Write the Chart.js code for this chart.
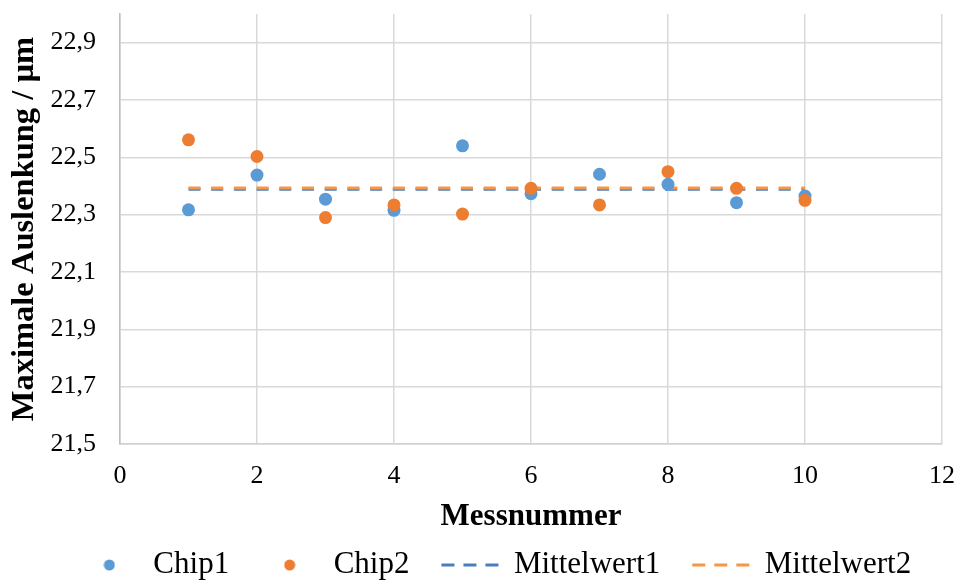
<!DOCTYPE html>
<html><head><meta charset="utf-8">
<script src="https://cdn.jsdelivr.net/npm/chart.js@4/dist/chart.umd.min.js"></script>
<style>html,body{margin:0;padding:0;background:#fff}canvas{display:block}</style>
</head><body>
<canvas id="c" width="958" height="580"></canvas>
<script>
const messnummer = [1, 2, 3, 4, 5, 6, 7, 8, 9, 10];
const chip1 = [22.317, 22.438, 22.354, 22.315, 22.540, 22.373, 22.441, 22.406, 22.342, 22.365];
const chip2 = [22.561, 22.503, 22.290, 22.334, 22.302, 22.392, 22.334, 22.450, 22.392, 22.350];
const mittelwert1 = [22.389, 22.389, 22.389, 22.389, 22.389, 22.389, 22.389, 22.389, 22.389, 22.389];
const mittelwert2 = [22.393, 22.393, 22.393, 22.393, 22.393, 22.393, 22.393, 22.393, 22.393, 22.393];
const xTicks = [0, 2, 4, 6, 8, 10, 12];
const yTicks = [21.5, 21.7, 21.9, 22.1, 22.3, 22.5, 22.7, 22.9];
const seriesNames = ['Chip1', 'Chip2', 'Mittelwert1', 'Mittelwert2'];

const FONT = "'Liberation Serif', 'Times New Roman', serif";
const C1 = '#5B9BD5', C2 = '#ED7D31', M1 = '#4A7EBB', M2 = '#F79646';

function dot(color) {
  const c = document.createElement('canvas');
  c.width = 12; c.height = 12;
  const g = c.getContext('2d');
  g.fillStyle = color;
  g.beginPath(); g.arc(6, 6, 5.5, 0, Math.PI * 2); g.fill();
  return c;
}
const legendDots = [dot(C1), dot(C2)];

const pts = (ys) => messnummer.map((x, i) => ({x: x, y: ys[i]}));

new Chart(document.getElementById('c'), {
  type: 'scatter',
  data: {
    datasets: [
      {label: seriesNames[0], data: pts(chip1), backgroundColor: C1, borderColor: C1, pointRadius: 6.5, pointBorderWidth: 0, order: 1},
      {label: seriesNames[1], data: pts(chip2), backgroundColor: C2, borderColor: C2, pointRadius: 6.5, pointBorderWidth: 0, order: 0},
      {label: seriesNames[2], type: 'line', data: pts(mittelwert1), borderColor: M1, backgroundColor: M1, borderWidth: 3, borderDash: [12, 10.7], pointRadius: 0, fill: false, order: 3},
      {label: seriesNames[3], type: 'line', data: pts(mittelwert2), borderColor: M2, backgroundColor: M2, borderWidth: 3, borderDash: [12, 10.7], pointRadius: 0, fill: false, order: 2}
    ]
  },
  options: {
    responsive: false,
    animation: false,
    devicePixelRatio: 1,
    layout: {padding: {top: 14, right: 13, left: 47, bottom: -10.5}},
    plugins: {
      tooltip: {enabled: false},
      legend: {
        position: 'bottom',
        labels: {
          usePointStyle: true,
          pointStyleWidth: 57,
          padding: 32,
          color: '#000',
          font: {family: FONT, size: 31},
          generateLabels: function (chart) {
            return chart.data.datasets.map((ds, i) => {
              const isLine = i >= 2;
              return {
                text: ds.label,
                datasetIndex: i,
                fillStyle: ds.backgroundColor,
                strokeStyle: ds.borderColor,
                lineWidth: isLine ? 3 : 0,
                lineDash: isLine ? [13, 9] : [],
                pointStyle: isLine ? 'line' : legendDots[i],
                fontColor: '#000',
                hidden: false
              };
            });
          }
        }
      }
    },
    scales: {
      x: {
        type: 'linear',
        min: 0, max: 12,
        afterBuildTicks: (s) => { s.ticks = xTicks.map(v => ({value: v})); },
        afterFit: (s) => { s.height = 73.5; s.paddingLeft = 0; s.paddingRight = 16; },
        grid: {color: '#D9D9D9', lineWidth: 1.5, drawTicks: false},
        border: {color: '#D0D0D0', width: 1.5},
        ticks: {color: '#000', padding: 17, font: {family: FONT, size: 26}, maxRotation: 0},
        title: {display: true, text: 'Messnummer', color: '#000', font: {family: FONT, size: 31, weight: 'bold'}, padding: {top: 0, bottom: -18}}
      },
      y: {
        type: 'linear',
        min: 21.5, max: 23.0,
        afterBuildTicks: (s) => { s.ticks = yTicks.map(v => ({value: v})); },
        afterFit: (s) => { s.width = 73; s.paddingTop = 0; s.paddingBottom = 0; },
        grid: {color: '#D9D9D9', lineWidth: 1.5, drawTicks: false},
        border: {color: '#BFBFBF', width: 1.5},
        ticks: {color: '#000', padding: 24, font: {family: FONT, size: 26},
          callback: (v) => Number(v).toFixed(1).replace('.', ',')},
        title: {display: true, text: 'Maximale Auslenkung / µm', color: '#000', font: {family: FONT, size: 32.5, weight: 'bold'}, padding: {top: -41.5, bottom: 0}}
      }
    }
  }
});
</script>
</body></html>
